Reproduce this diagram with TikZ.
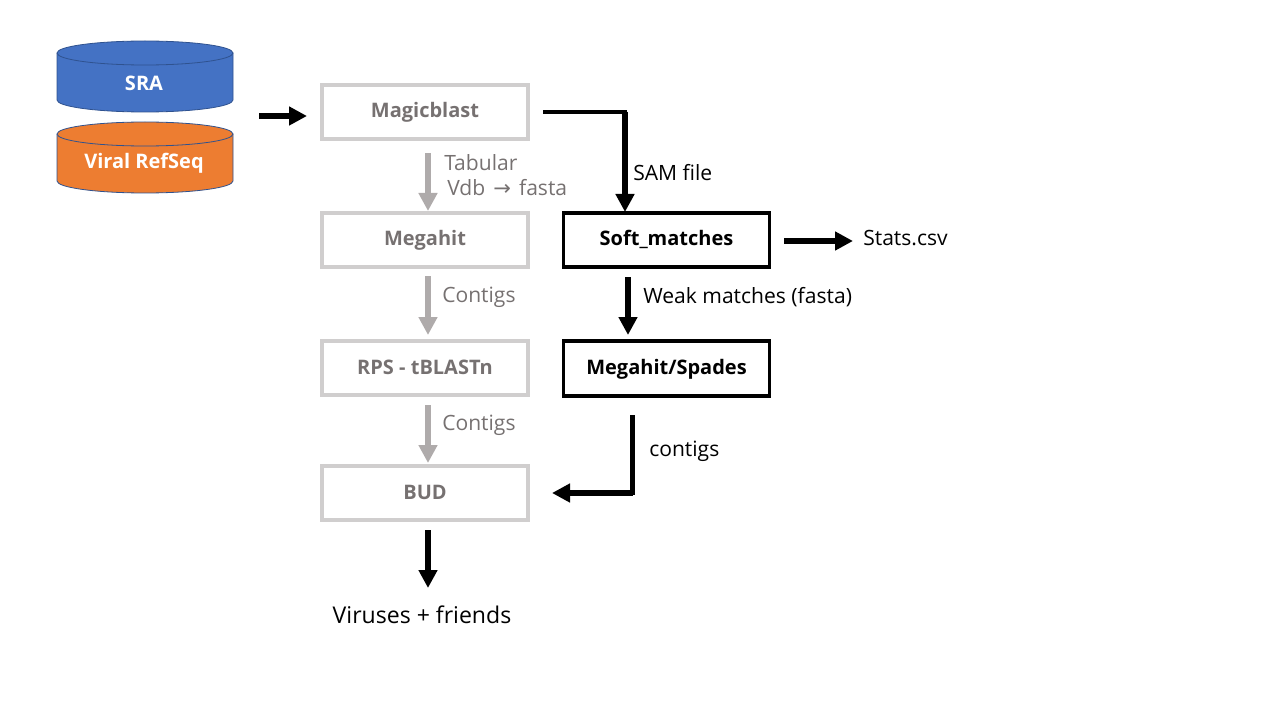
\documentclass[tikz,border=0pt]{standalone}
\usepackage{fontspec}
\setmainfont{Open Sans}
\newfontfamily\arrowfont{DejaVu Sans}
\usetikzlibrary{shapes.geometric, arrows.meta, calc}

\definecolor{srablue}{HTML}{4472C4}
\definecolor{refseqorange}{HTML}{ED7D31}
\definecolor{edgeblue}{HTML}{2F528F}
\definecolor{boxgray}{HTML}{D0CECE}
\definecolor{arrowgray}{HTML}{AFABAB}
\definecolor{labelgray}{HTML}{767171}

\tikzset{
  dbbody/.style={draw=edgeblue, line width=0.6pt},
  dbtext/.style={inner sep=0pt, text=white, font=\fontsize{15}{17}\selectfont\bfseries},
  greybox/.style={draw=boxgray, line width=3pt, minimum width=154.5pt, minimum height=40.5pt,
    inner sep=0pt, text=labelgray, text height=12.5pt, text depth=3.5pt, font=\fontsize{15}{17}\selectfont\bfseries},
  blackbox/.style={draw=black, line width=2.8pt, minimum width=154.5pt, minimum height=41pt,
    inner sep=0pt, text height=12.5pt, text depth=3.5pt, font=\fontsize{15}{17}\selectfont\bfseries},
  greyarrow/.style={draw=arrowgray, line width=4.3pt, -{Triangle[length=13.5pt,width=13.5pt]}},
  blackarrow/.style={draw=black, line width=4.3pt, -{Triangle[length=13.5pt,width=13.5pt]}},
  thinline/.style={draw=black, line width=3.2pt, line cap=rect},
  greylabel/.style={text=labelgray, inner sep=0pt, anchor=west, font=\fontsize{15.8}{18}\selectfont},
  blacklabel/.style={inner sep=0pt, anchor=west, font=\fontsize{15.8}{18}\selectfont},
}

\begin{document}
\begin{tikzpicture}[x=0.75pt,y=-0.75pt]
      \useasboundingbox (0,0) rectangle (1280,720);

      % databases
      \draw[dbbody, fill=srablue] (57,53) -- (57,100) arc[start angle=180, end angle=0, x radius=88, y radius=12] -- (233,53);
      \draw[dbbody, fill=srablue] (145,53) ellipse (88 and 12);
      \node[dbtext] (sra) at (144,83) {SRA};

      \draw[dbbody, fill=refseqorange] (57,134) -- (57,181) arc[start angle=180, end angle=0, x radius=88, y radius=12] -- (233,134);
      \draw[dbbody, fill=refseqorange] (145,134) ellipse (88 and 12);
      \node[dbtext] (refseq) at (144,163) {Viral RefSeq};

      % main pipeline
      \node[greybox] (magicblast) at (425,112) {Magicblast};
      \node[greybox] (megahit) at (425,240) {Megahit};
      \node[greybox] (rps) at (425,368) {RPS - tBLASTn};
      \node[greybox] (bud) at (425,493) {BUD};

      % second pipeline
      \node[blackbox] (softmatches) at (666.5,240) {Soft\_matches};
      \node[blackbox] (spades) at (666.5,368.5) {Megahit/Spades};

      % outputs
      \node[blacklabel] (stats) at (863,238.5) {Stats.csv};
      \node[blacklabel, anchor=center, font=\fontsize{17.3}{20}\selectfont] (viruses) at (422,615) {Viruses + friends};

      % labels
      \node[greylabel] (tabular) at (444,162.5) {Tabular};
      \node[greylabel] (vdb) at (447,188) {Vdb\hspace{2pt} {\arrowfont →}\hspace{2pt} fasta};
      \node[greylabel] (contigsa) at (442,297) {Contigs};
      \node[greylabel] (contigsb) at (442,425) {Contigs};
      \node[blacklabel] (samfile) at (633,173) {SAM file};
      \node[blacklabel] (weak) at (643,297) {Weak matches (fasta)};
      \node[blacklabel] (contigsc) at (649,451) {contigs};

      % free ends
      \coordinate (inputstart) at (259,116);
      \coordinate (inputend) at (307,116);
      \coordinate (blastout) at (545,112);
      \coordinate (blastturn) at (625,112);
      \coordinate (softin) at (625,212);
      \coordinate (greya) at (428,153);
      \coordinate (greyaend) at (428,211);
      \coordinate (greyb) at (428,276);
      \coordinate (greybend) at (428,335);
      \coordinate (greyc) at (428,405);
      \coordinate (greycend) at (428,463);
      \coordinate (budout) at (428,530);
      \coordinate (virusin) at (428,588);
      \coordinate (softout) at (784,241);
      \coordinate (statsin) at (853,241);
      \coordinate (softdown) at (628,277);
      \coordinate (spadesin) at (628,335);
      \coordinate (spadesout) at (632.5,417);
      \coordinate (spadesturn) at (632.5,493);
      \coordinate (budin) at (552,493);

      \draw[blackarrow] (inputstart) -- (inputend);
      \draw[thinline] (blastout) -- (blastturn);
      \draw[blackarrow] (blastturn) -- (softin);
      \draw[greyarrow] (greya) -- (greyaend);
      \draw[greyarrow] (greyb) -- (greybend);
      \draw[greyarrow] (greyc) -- (greycend);
      \draw[blackarrow] (budout) -- (virusin);
      \draw[blackarrow] (softout) -- (statsin);
      \draw[blackarrow] (softdown) -- (spadesin);
      \draw[thinline] (spadesout) -- (spadesturn);
      \draw[blackarrow] (spadesturn) -- (budin);
    \end{tikzpicture}
\end{document}
